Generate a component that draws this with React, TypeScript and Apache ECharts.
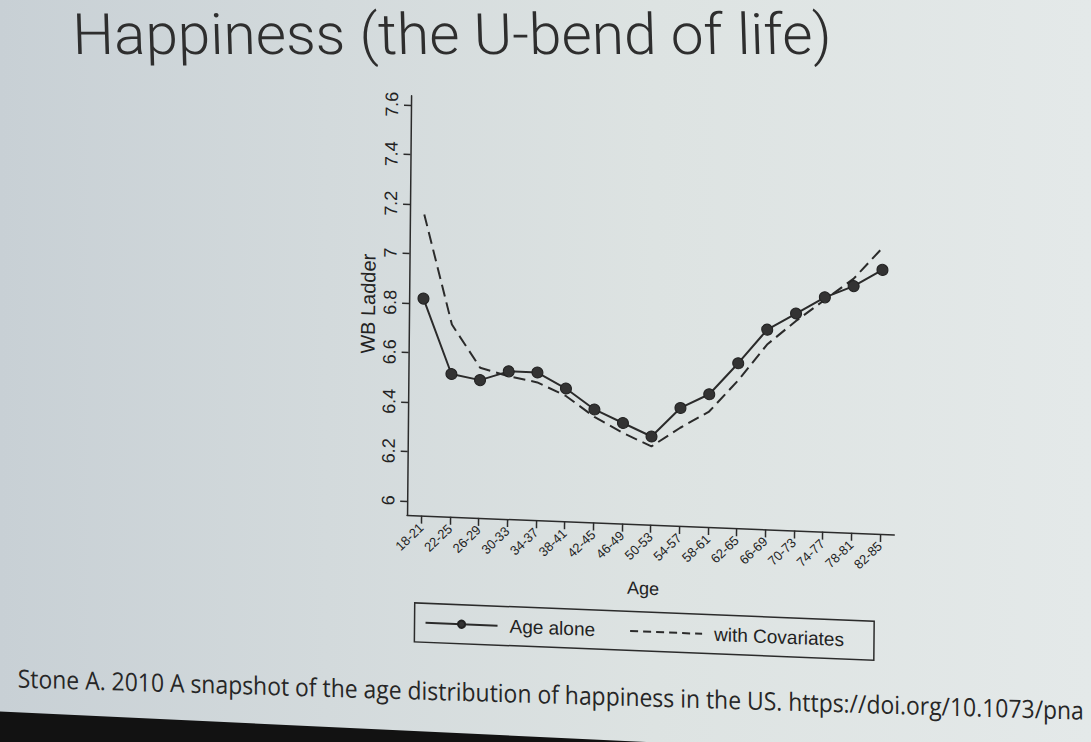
import React, { useEffect, useRef } from "react";
import * as echarts from "echarts";

// ---- data ----
const ageGroups = [
  "18-21", "22-25", "26-29", "30-33", "34-37", "38-41", "42-45", "46-49", "50-53",
  "54-57", "58-61", "62-65", "66-69", "70-73", "74-77", "78-81", "82-85",
];
const ageAlone = [6.82, 6.52, 6.5, 6.54, 6.54, 6.48, 6.4, 6.35, 6.3, 6.42, 6.48, 6.61, 6.75, 6.82, 6.89, 6.94, 7.01];
const withCovariates = [7.16, 6.72, 6.55, 6.52, 6.5, 6.45, 6.37, 6.31, 6.26, 6.34, 6.41, 6.54, 6.69, 6.79, 6.88, 6.97, 7.1];
const yTickValues = [6, 6.2, 6.4, 6.6, 6.8, 7, 7.2, 7.4, 7.6];
const yTickLabels = ["6", "6.2", "6.4", "6.6", "6.8", "7", "7.2", "7.4", "7.6"];
const seriesNames = ["Age alone", "with Covariates"];
const titleText = "Happiness (the U-bend of life)";
const footerText =
  "Stone A. 2010 A snapshot of the age distribution of happiness in the US. https://doi.org/10.1073/pna";

// ---- layout ----
const O = 50; // the chart div overhangs the window by O on each side
// the photographed slide is slightly sheared: horizontals fall to the right, verticals lean a little
const SLOPE_H = 0.04;
const SLOPE_V = -0.0096;

function measure(text: string, font: string): number {
  const ctx = document.createElement("canvas").getContext("2d");
  if (!ctx) return 1;
  ctx.font = font;
  return ctx.measureText(text).width || 1;
}

export default function App() {
  const ref = useRef<HTMLDivElement>(null);

  useEffect(() => {
    if (!ref.current) return;
    const chart = echarts.init(ref.current, undefined, { renderer: "svg" });

    const titleFont = { size: 57, family: "Roboto", weight: 300 };
    const titleW = measure(titleText, `${titleFont.weight} ${titleFont.size}px ${titleFont.family}`);
    const footerFont = { size: 25, family: '"Open Sans"', weight: 400 };
    const footerW = measure(footerText, `${footerFont.weight} ${footerFont.size}px ${footerFont.family}`);

    const ink = "#2b2b2b";

    chart.setOption({
      animation: false,
      backgroundColor: "transparent",
      textStyle: { fontFamily: '"Liberation Sans", Arial, sans-serif', color: "#222" },
      grid: { left: 408.5 + O, top: 101.3 + O, width: 487.2, height: 419.2, show: false },
      xAxis: {
        type: "category",
        data: ageGroups,
        boundaryGap: true,
        name: "Age",
        nameLocation: "middle",
        nameGap: 55,
        nameTextStyle: { fontSize: 18, color: "#222", padding: [0, 14, 0, 0] },
        axisLine: { show: true, lineStyle: { color: ink, width: 1.5 } },
        axisTick: { show: true, alignWithLabel: true, length: 8, lineStyle: { color: ink, width: 1.5 } },
        axisLabel: { interval: 0, rotate: 45, fontSize: 13, margin: 10, color: "#222" },
        splitLine: { show: false },
      },
      yAxis: {
        type: "value",
        min: 5.9435,
        max: 7.6368,
        name: "WB Ladder",
        nameLocation: "middle",
        nameGap: 31,
        nameTextStyle: { fontSize: 20, color: "#222" },
        axisLine: { show: true, lineStyle: { color: ink, width: 1.5 } },
        axisTick: { show: true, length: 7, customValues: yTickValues, lineStyle: { color: ink, width: 1.5 } },
        axisLabel: {
          rotate: 90,
          fontSize: 18,
          margin: 10,
          color: "#222",
          customValues: yTickValues,
          formatter: (v: number) => {
            const i = yTickValues.findIndex((t) => Math.abs(t - v) < 1e-6);
            return i >= 0 ? yTickLabels[i] : "";
          },
        },
        splitLine: { show: false },
      },
      legend: {
        left: 417 + O,
        top: 608 + O,
        orient: "horizontal",
        itemWidth: 72,
        itemHeight: 9,
        itemGap: 34,
        padding: [10, 30, 10, 10],
        borderColor: ink,
        borderWidth: 1.5,
        borderRadius: 0,
        textStyle: { fontSize: 19, color: "#222", padding: [0, 0, 0, 7] },
        data: [
          { name: seriesNames[0] },
          { name: seriesNames[1], itemStyle: { opacity: 0 }, lineStyle: { type: [8, 5] } },
        ],
      },
      series: [
        {
          name: seriesNames[0],
          type: "line",
          data: ageAlone,
          symbol: "circle",
          symbolSize: 11,
          itemStyle: { color: "#333", borderColor: "#222", borderWidth: 1 },
          lineStyle: { color: ink, width: 2 },
          z: 3,
        },
        {
          name: seriesNames[1],
          type: "line",
          data: withCovariates,
          symbol: "none",
          itemStyle: { color: ink },
          lineStyle: { color: ink, width: 2, type: [12, 6] },
          z: 2,
        },
      ],
      graphic: [
        {
          type: "polygon",
          silent: true,
          z: -10,
          shape: { points: [[0, 782.8], [710, 787.9], [710, 900], [0, 900]] },
          style: { fill: "#121212" },
        },
        {
          type: "text",
          x: 448.8 + O,
          y: 37.7 + O,
          rotation: SLOPE_H,
          scaleX: 760 / titleW,
          style: {
            text: titleText,
            fontSize: titleFont.size,
            fontFamily: titleFont.family,
            fontWeight: titleFont.weight,
            fill: "#2e2e2e",
            textAlign: "center",
            textVerticalAlign: "middle",
          },
        },
        {
          type: "text",
          x: 20.9 + O,
          y: 698.6 + O,
          rotation: 0.01,
          scaleX: 1066 / footerW,
          style: {
            text: footerText,
            fontSize: footerFont.size,
            fontFamily: footerFont.family,
            fontWeight: footerFont.weight,
            fill: "#262626",
            textAlign: "left",
            textVerticalAlign: "middle",
          },
        },
      ],
    });

    return () => chart.dispose();
  }, []);

  return (
    <div
      style={{
        position: "fixed",
        left: 0,
        top: 0,
        width: 1091,
        height: 742,
        overflow: "hidden",
        background: "linear-gradient(90deg, #c8d0d5 0%, #d3dadc 30%, #dde3e2 60%, #e4e9e9 100%)",
      }}
    >
      <div
        ref={ref}
        style={{
          position: "absolute",
          left: -O,
          top: -O,
          width: 1091 + 2 * O,
          height: 742 + 2 * O,
          transform: `matrix(1, ${SLOPE_H}, ${SLOPE_V}, 1, 0, 0)`,
          transformOrigin: "50% 50%",
        }}
      />
    </div>
  );
}
